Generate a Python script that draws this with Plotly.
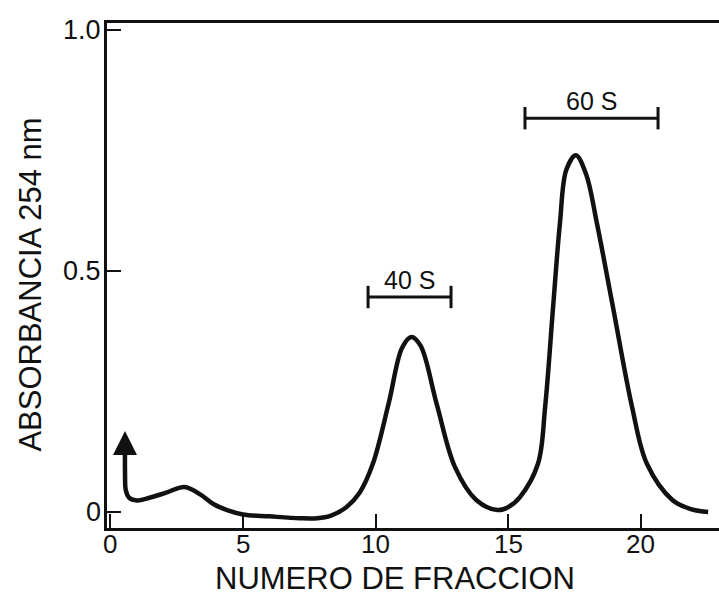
import plotly.graph_objects as go

# Elution profile (fraction number vs absorbance at 254 nm)
fraction = [0.55, 0.55, 0.58, 0.7, 1.0, 1.5, 2.1, 2.8, 3.4, 3.9, 4.4, 5.0, 6.0, 7.15, 7.8, 8.3,
            8.9, 9.4, 9.9, 10.5, 11.0, 11.35, 11.7, 12.3, 13.0, 13.8, 14.6, 15.0, 15.45, 16.13,
            16.4, 16.7, 16.96, 17.2, 17.56, 17.95, 18.35, 18.96, 19.68, 20.24,
            21.2, 21.9, 22.55]
absorbance = [0.13, 0.08, 0.045, 0.03, 0.024, 0.03, 0.040, 0.052, 0.036, 0.016, 0.004, -0.005,
              -0.009, -0.013, -0.013, -0.008, 0.01, 0.04, 0.10, 0.226, 0.34, 0.363, 0.345,
              0.226, 0.093, 0.025, 0.004, 0.01, 0.031, 0.10, 0.218, 0.425, 0.60, 0.71,
              0.74, 0.70, 0.60, 0.425, 0.218, 0.10, 0.025, 0.006, 0.0]

# Arrow at the start of the profile
arrow_x = 0.55
arrow_tail_y = 0.12
arrow_tip_y = 0.168

# Subunit fraction bars
bar_labels = ["40 S", "60 S"]
bar_start = [9.72, 15.64]
bar_end = [12.85, 20.66]
bar_level = [0.446, 0.817]
label_level = [0.482, 0.853]

x_ticks = [0, 5, 10, 15, 20]
x_tick_text = ["0", "5", "10", "15", "20"]
y_ticks = [0, 0.5, 1.0]
y_tick_text = ["0", "0.5", "1.0"]

FONT = "Liberation Sans, Arial, sans-serif"
INK = "#111111"

fig = go.Figure()
fig.add_trace(go.Scatter(x=fraction, y=absorbance, mode="lines",
                         line=dict(color=INK, width=4.5, shape="spline", smoothing=1.0),
                         hoverinfo="skip", showlegend=False))

for lab, x0, x1, yb, yl in zip(bar_labels, bar_start, bar_end, bar_level, label_level):
    fig.add_trace(go.Scatter(x=[x0, x1], y=[yb, yb], mode="lines+markers",
                             line=dict(color=INK, width=3),
                             marker=dict(symbol="line-ns", size=16,
                                         line=dict(color=INK, width=3)),
                             hoverinfo="skip", showlegend=False))
    fig.add_annotation(x=(x0 + x1) / 2, y=yl, text=lab, showarrow=False,
                       font=dict(family=FONT, size=25, color=INK))

fig.add_annotation(x=arrow_x, y=arrow_tip_y, ax=arrow_x, ay=arrow_tail_y,
                   xref="x", yref="y", axref="x", ayref="y", text="",
                   showarrow=True, arrowhead=2, arrowsize=1.2, arrowwidth=4,
                   arrowcolor=INK)

# Tick labels placed close to the axes, as in the original
for v, t in zip(x_ticks, x_tick_text):
    fig.add_annotation(x=v, y=-0.032, xref="x", yref="paper", text=t,
                       showarrow=False, xanchor="center", yanchor="middle",
                       font=dict(family=FONT, size=26, color=INK))
for v, t in zip(y_ticks, y_tick_text):
    fig.add_annotation(x=-0.006, y=v, xref="paper", yref="y", text=t,
                       showarrow=False, xanchor="right", yanchor="middle",
                       font=dict(family=FONT, size=27, color=INK))

# Axis titles
fig.add_annotation(x=-0.125, y=0.481, xref="paper", yref="paper",
                   text="ABSORBANCIA 254 nm", textangle=-90, showarrow=False,
                   xanchor="center", yanchor="middle",
                   font=dict(family=FONT, size=31, color=INK))
fig.add_annotation(x=0.47, y=-0.1, xref="paper", yref="paper",
                   text="NUMERO DE FRACCION", showarrow=False,
                   xanchor="center", yanchor="middle",
                   font=dict(family=FONT, size=31, color=INK))

fig.update_xaxes(range=[-0.13, 22.96], showgrid=False, zeroline=False,
                 showline=True, linecolor=INK, linewidth=3, mirror=True,
                 tickmode="array", tickvals=x_ticks, ticks="inside",
                 ticklen=14, tickwidth=2, tickcolor=INK, showticklabels=False)
fig.update_yaxes(range=[-0.0332, 1.0145], showgrid=False, zeroline=False,
                 showline=True, linecolor=INK, linewidth=3, mirror=False,
                 tickmode="array", tickvals=y_ticks,
                 ticks="inside", ticklen=14, tickwidth=2, tickcolor=INK,
                 showticklabels=False)

fig.update_layout(width=719, height=605,
                  margin=dict(l=107, r=0, t=23, b=77),
                  paper_bgcolor="white", plot_bgcolor="white")

fig.write_html("out.html")
